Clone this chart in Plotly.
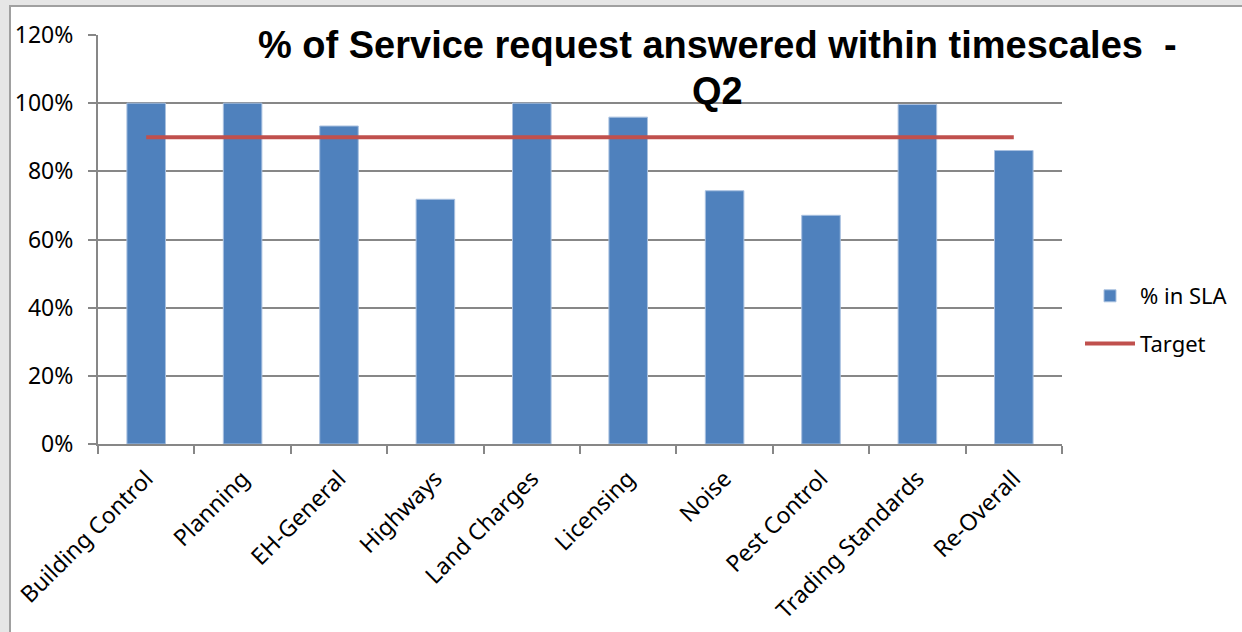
import plotly.graph_objects as go

categories = ["Building Control", "Planning", "EH-General", "Highways", "Land Charges",
              "Licensing", "Noise", "Pest Control", "Trading Standards", "Re-Overall"]
pct_in_sla = [1.00, 1.00, 0.933, 0.718, 1.00, 0.959, 0.743, 0.671, 0.996, 0.861]
target = [0.90] * len(categories)
y_ticks = [0, 0.2, 0.4, 0.6, 0.8, 1.0, 1.2]
title_line1 = "% of Service request answered within timescales  -"
title_line2 = "Q2"

W, H = 1242, 632
ML, MR, MT, MB = 98, 180, 35, 188
pw, ph = W - ML - MR, H - MT - MB

def px(x):
    return (x - ML) / pw

def py(y):
    return (H - MB - y) / ph

fig = go.Figure()
fig.add_trace(go.Bar(
    x=categories, y=pct_in_sla, name="% in SLA",
    marker=dict(color="#4F81BD", line=dict(color="#A9C1E0", width=1)),
    legendgroup="a",
))
fig.add_trace(go.Scatter(
    x=categories, y=target, name="Target", mode="lines",
    line=dict(color="#C0504D", width=4),
    legendgroup="b",
))

grid = "#878787"
fig.update_layout(
    width=W, height=H,
    margin=dict(l=ML, r=MR, t=MT, b=MB, autoexpand=False),
    paper_bgcolor="#e6e6e6",
    plot_bgcolor="white",
    bargap=0.6,
    showlegend=True,
    font=dict(family="Noto Sans", color="black"),
    legend=dict(x=px(1080), xanchor="left", y=py(320), yanchor="middle",
                font=dict(size=22, family="Noto Sans"), tracegroupgap=16,
                bgcolor="rgba(0,0,0,0)", itemwidth=50),
    xaxis=dict(
        tickangle=-45, tickfont=dict(size=23, family="Noto Sans"),
        showline=True, linecolor=grid, linewidth=2,
        ticks="outside", ticklen=8, tickcolor=grid, tickwidth=2,
        tickson="boundaries", showgrid=False, ticklabelstandoff=10,
        range=[-0.5, len(categories) - 0.5], automargin=False,
    ),
    yaxis=dict(
        range=[0, 1.2], tickvals=y_ticks, tickformat=".0%",
        tickfont=dict(size=23, family="Noto Sans"),
        showgrid=True, gridcolor=grid, gridwidth=1.5,
        showline=True, linecolor=grid, linewidth=2,
        ticks="outside", ticklen=8, tickcolor=grid, tickwidth=2,
        zeroline=False, ticklabelstandoff=10, automargin=False,
    ),
    shapes=[dict(type="rect", xref="paper", yref="paper",
                 x0=px(10), x1=px(W + 20), y0=py(H + 20), y1=py(6),
                 fillcolor="white", line=dict(color="#a0a0a0", width=2), layer="below")],
    annotations=[
        dict(text="<b>" + title_line1 + "</b>", xref="paper", yref="paper",
             x=px(717), y=py(45), xanchor="center", yanchor="middle", showarrow=False,
             font=dict(size=38, family="Liberation Sans", color="black")),
        dict(text="<b>" + title_line2 + "</b>", xref="paper", yref="paper",
             x=px(717), y=py(91), xanchor="center", yanchor="middle", showarrow=False,
             font=dict(size=38, family="Liberation Sans", color="black")),
    ],
)

fig.write_html("out.html")
